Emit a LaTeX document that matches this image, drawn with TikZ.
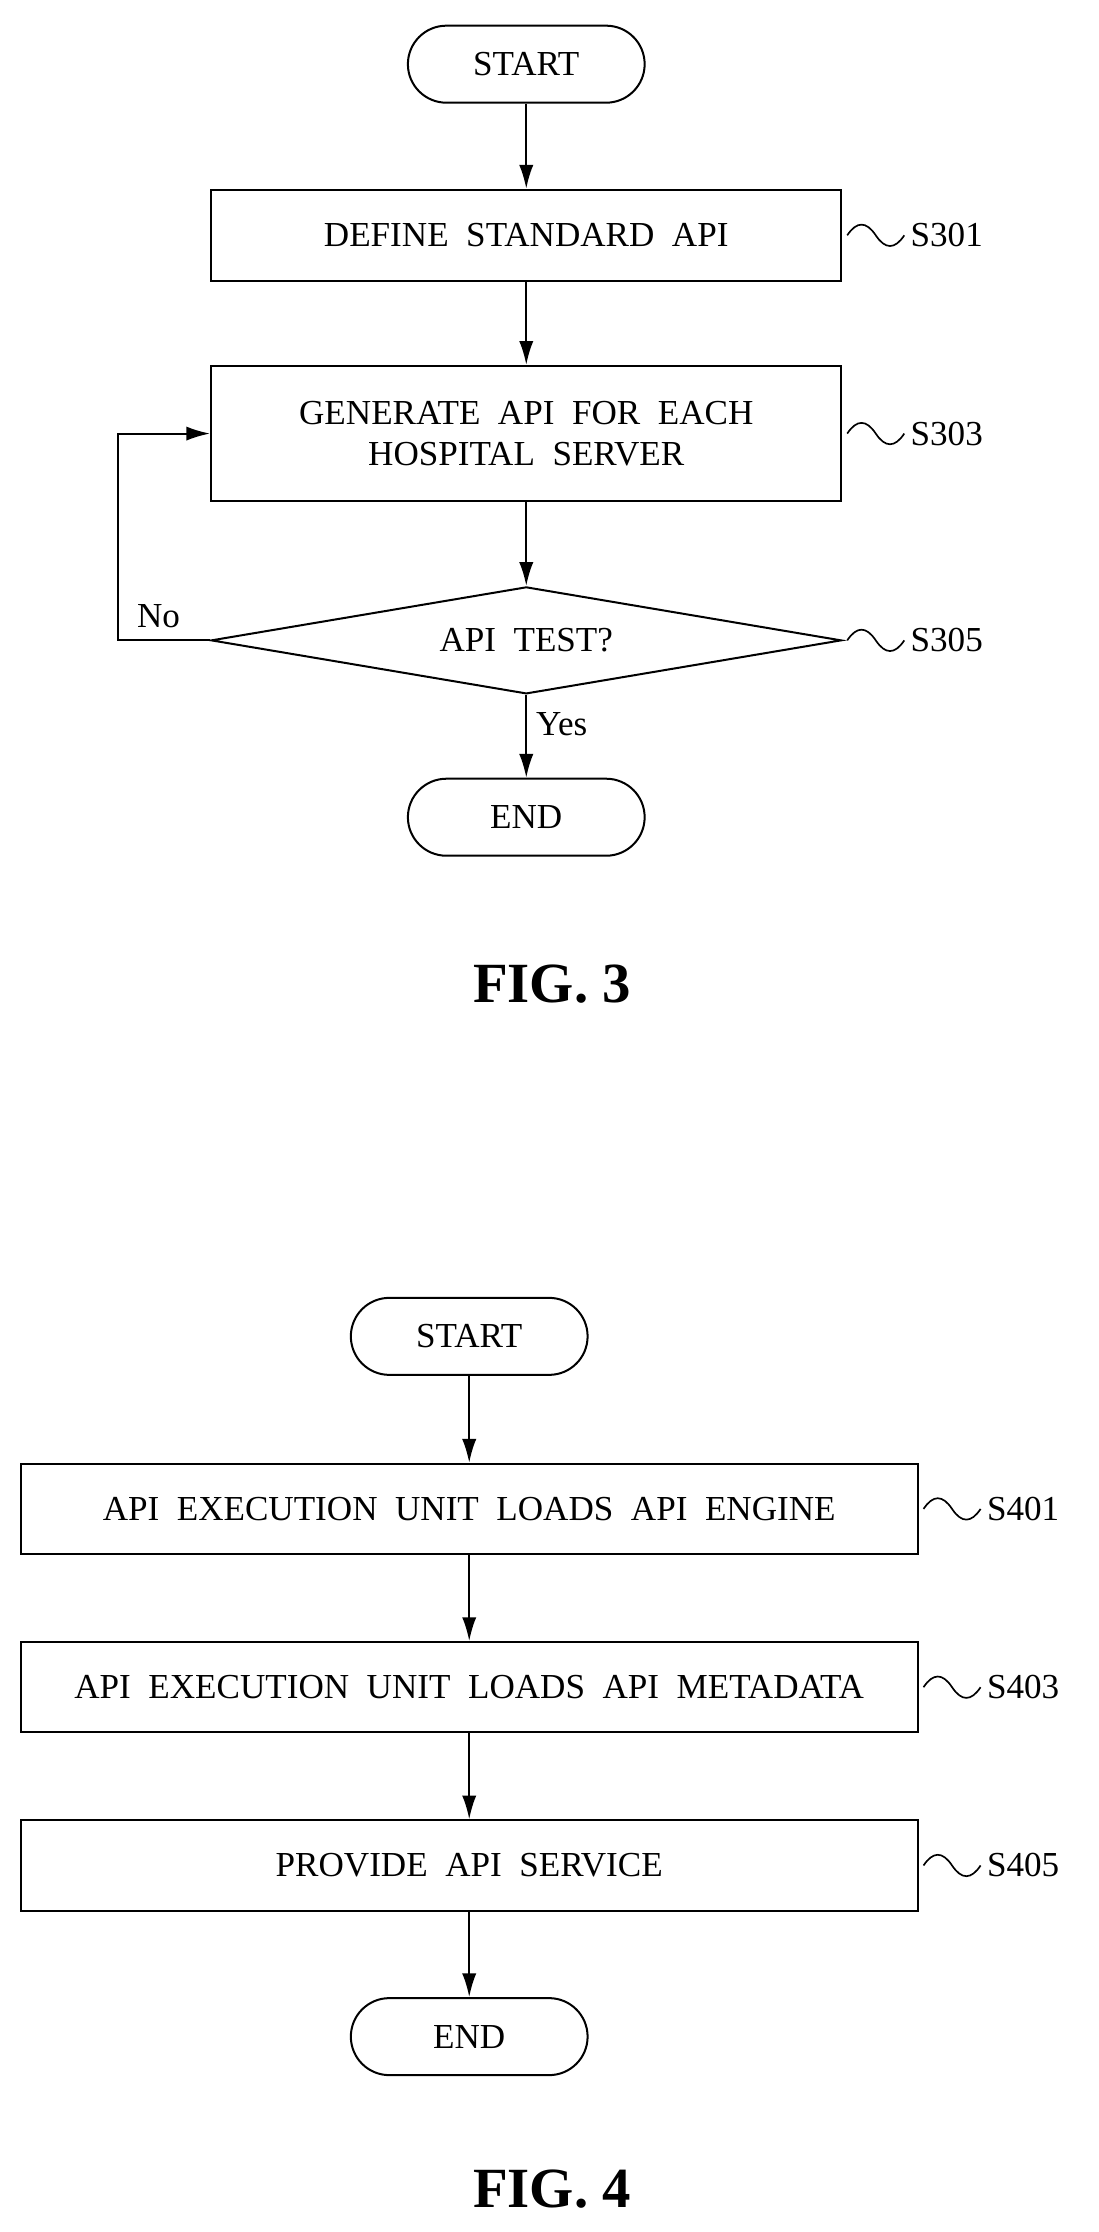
\documentclass[tikz,border=0pt]{standalone}
\usepackage{fontspec}
\setmainfont{Liberation Serif}
\usetikzlibrary{positioning,shapes.geometric,arrows.meta}

\tikzset{
  flow/.style={draw, line width=1.2pt, font=\fontsize{21}{25}\selectfont, align=center, inner sep=0pt},
  term/.style={flow, rounded corners=0.81cm, minimum width=4.98cm, minimum height=1.62cm},
  task/.style={flow, minimum width=13.26cm, minimum height=1.92cm},
  wide task/.style={flow, minimum width=18.87cm, minimum height=1.9cm},
  test/.style={flow, diamond, aspect=5, minimum width=13.26cm, minimum height=2.25cm},
  link/.style={line width=1.2pt, -{Latex[length=0.5cm,width=0.3cm]}},
  tag/.style={font=\fontsize{21}{25}\selectfont, anchor=west},
  fig/.style={font=\fontsize{34}{38}\selectfont\bfseries}
}
\newcommand{\wave}[2]{% wave from node east to label
  \draw[line width=1pt] (#1.east) ++(0.1cm,0cm) .. controls +(0.2cm,0.3cm) and +(-0.2cm,0.3cm) .. ++(0.6cm,0cm)
    .. controls +(0.2cm,-0.3cm) and +(-0.2cm,-0.3cm) .. ++(0.6cm,0cm) node[tag]{#2};}

\begin{document}
\begin{tikzpicture}[x=0.03cm,y=-0.03cm]
  \useasboundingbox (0,0) rectangle (770,1565);
  % FIG. 3
  \node[term] (start3) at (369,45) {START};
  \node[task] (s301) at (369,165) {DEFINE\ \ STANDARD\ \ API};
  \node[task, minimum height=2.85cm] (s303) at (369,304) {GENERATE\ \ API\ \ FOR\ \ EACH\\HOSPITAL\ \ SERVER};
  \node[test] (s305) at (369,449) {API\ \ TEST?};
  \node[term] (end3) at (369,573) {END};
  \coordinate (loop) at (83,449);
  \draw[link] (start3) -- (s301);
  \draw[link] (s301) -- (s303);
  \draw[link] (s303) -- (s305);
  \draw[link] (s305) -- node[tag, pos=0.35, xshift=2pt]{Yes} (end3);
  \draw[link] (s305.west) -- (loop) |- (s303.west);
  \node[tag] (no) at (92,432) {No};
  \wave{s301}{S301}
  \wave{s303}{S303}
  \wave{s305}{S305}
  \node[fig] (fig3) at (387,690) {FIG. 3};
  % FIG. 4
  \node[term] (start4) at (329,937) {START};
  \node[wide task] (s401) at (329,1058) {API\ \ EXECUTION\ \ UNIT\ \ LOADS\ \ API\ \ ENGINE};
  \node[wide task] (s403) at (329,1183) {API\ \ EXECUTION\ \ UNIT\ \ LOADS\ \ API\ \ METADATA};
  \node[wide task] (s405) at (329,1308) {PROVIDE\ \ API\ \ SERVICE};
  \node[term] (end4) at (329,1428) {END};
  \draw[link] (start4) -- (s401);
  \draw[link] (s401) -- (s403);
  \draw[link] (s403) -- (s405);
  \draw[link] (s405) -- (end4);
  \wave{s401}{S401}
  \wave{s403}{S403}
  \wave{s405}{S405}
  \node[fig] (fig4) at (387,1535) {FIG. 4};
\end{tikzpicture}
\end{document}
